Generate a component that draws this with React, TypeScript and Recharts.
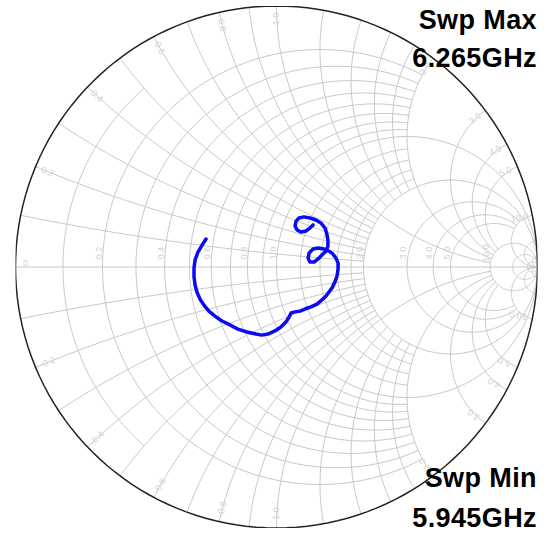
import React from "react";
import { ScatterChart, Scatter, XAxis, YAxis } from "recharts";

const W = 557;
const H = 533;
const GRID = "#c8c8c8";
const LABEL = "#d2d2d2";
const TRACE = "#0a0af5";

// resistance circles, and up to which |x| each is drawn
const resistances = [0.1, 0.2, 0.3, 0.4, 0.5, 0.6, 0.7, 0.8, 0.9, 1, 1.2, 1.4, 1.6, 1.8, 2, 3, 4, 5, 10, 20, 50];
const resistanceReach = [0.5, 2, 2, 2, 2, 2, 2, 2, 2, Infinity, 2, 2, 2, 2, Infinity, 10, 10, 10, Infinity, Infinity, Infinity];
// reactance arcs, and up to which r each is drawn
const reactances = [0.1, 0.2, 0.3, 0.4, 0.5, 0.6, 0.7, 0.8, 0.9, 1, 1.2, 1.4, 1.6, 1.8, 2, 3, 4, 5, 10, 20, 50];
const reactanceReach = [2, 2, 2, 2, 2, 2, 2, 2, 2, 10, 2, 2, 2, 2, 10, 10, 10, 10, Infinity, Infinity, Infinity];

const axisLabels = [0, 0.2, 0.4, 0.6, 0.8, 1, 2, 3, 4, 5, 10];
const rimLabels = [0.2, 0.4, 0.6, 0.8, 1, 2, 3, 4, 5, 10, -0.2, -0.4, -0.6, -0.8, -1, -2, -3, -4, -5, -10];

// S11 from 5.945 GHz to 6.265 GHz (real / imaginary)
const traceRe = [
  -0.27, -0.285, -0.301, -0.312, -0.316, -0.316, -0.312, -0.305, -0.293, -0.278, -0.259, -0.236, -0.209, -0.178,
  -0.148, -0.113, -0.079, -0.056, -0.033, -0.006, 0.017, 0.036, 0.048, 0.056, 0.071, 0.09, 0.109, 0.132, 0.155,
  0.174, 0.19, 0.201, 0.213, 0.224, 0.232, 0.236, 0.236, 0.228, 0.216, 0.201, 0.182, 0.159, 0.14, 0.125, 0.121,
  0.128, 0.144, 0.159, 0.174, 0.19, 0.197, 0.197, 0.193, 0.186, 0.17, 0.151, 0.128, 0.105, 0.086, 0.075, 0.071,
  0.079, 0.094, 0.113, 0.128, 0.14,
];
const traceIm = [
  0.107, 0.084, 0.057, 0.027, -0.004, -0.038, -0.069, -0.096, -0.123, -0.146, -0.169, -0.188, -0.207, -0.222,
  -0.238, -0.249, -0.257, -0.261, -0.257, -0.245, -0.23, -0.211, -0.192, -0.176, -0.172, -0.169, -0.161, -0.153,
  -0.142, -0.126, -0.111, -0.096, -0.08, -0.057, -0.034, -0.008, 0.015, 0.034, 0.05, 0.061, 0.069, 0.073, 0.069,
  0.054, 0.034, 0.019, 0.019, 0.031, 0.046, 0.061, 0.08, 0.103, 0.126, 0.149, 0.169, 0.18, 0.188, 0.192, 0.188,
  0.176, 0.157, 0.142, 0.134, 0.138, 0.149, 0.161,
];

type P = { x: number; y: number };

function gamma(r: number, x: number): P {
  const d = (r + 1) * (r + 1) + x * x;
  return { x: (r * r + x * x - 1) / d, y: (2 * x) / d };
}

function rCircle(r: number, reach: number): P[] {
  const c = r / (r + 1);
  const rho = 1 / (r + 1);
  let a0 = 0;
  if (isFinite(reach)) {
    const g = gamma(r, reach);
    a0 = Math.atan2(g.y, g.x - c);
  }
  const pts: P[] = [];
  const n = 160;
  for (let i = 0; i <= n; i++) {
    const a = a0 + ((2 * Math.PI - 2 * a0) * i) / n;
    pts.push({ x: c + rho * Math.cos(a), y: rho * Math.sin(a) });
  }
  return pts;
}

function xArc(x: number, reach: number): P[] {
  const cy = 1 / x;
  const rad = Math.abs(1 / x);
  const A = gamma(0, x);
  const B = isFinite(reach) ? gamma(reach, x) : { x: 1, y: 0 };
  const a = Math.atan2(A.y - cy, A.x - 1);
  const b = Math.atan2(B.y - cy, B.x - 1);
  let d = b - a;
  while (d > Math.PI) d -= 2 * Math.PI;
  while (d < -Math.PI) d += 2 * Math.PI;
  const pts: P[] = [];
  const n = 80;
  for (let i = 0; i <= n; i++) {
    const t = a + (d * i) / n;
    pts.push({ x: 1 + rad * Math.cos(t), y: cy + rad * Math.sin(t) });
  }
  return pts;
}

const gridCurves: P[][] = [];
resistances.forEach((r, i) => gridCurves.push(rCircle(r, resistanceReach[i])));
reactances.forEach((x, i) => {
  gridCurves.push(xArc(x, reactanceReach[i]));
  gridCurves.push(xArc(-x, reactanceReach[i]));
});
gridCurves.push([{ x: -1, y: 0 }, { x: 1, y: 0 }]);

const outline = rCircle(0, Infinity);

const trace = traceRe.map((re, i) => ({ x: re, y: traceIm[i] }));

const axisLabelData = axisLabels.map((r) => ({ x: (r - 1) / (r + 1), y: 0, text: r === 0 ? "0" : r.toFixed(1), kind: "axis" }));
const rimLabelData = rimLabels.map((v) => {
  const th = Math.PI - 2 * Math.atan(v);
  return { x: 0.95 * Math.cos(th), y: 0.95 * Math.sin(th), text: v.toFixed(1), kind: "rim", th };
});

const Empty = () => <g />;

function GridLabel(p: any) {
  const { cx, cy, payload } = p;
  if (payload.kind === "axis") {
    const lx = payload.text === "0" ? cx + 10 : cx - 4;
    const ly = payload.text === "0" ? cy - 4 : cy - 14;
    const rot = payload.text === "0" ? 0 : -90;
    return (
      <text x={lx} y={ly} fill={LABEL} fontSize={9} fontFamily="Liberation Sans, Arial" textAnchor="middle"
        dominantBaseline="central" transform={`rotate(${rot} ${lx} ${ly})`}>
        {payload.text}
      </text>
    );
  }
  const deg = (payload.th * 180) / Math.PI;
  let rot = -deg;
  if (deg > 90 || deg < -90) rot = 180 - deg;
  return (
    <text x={cx} y={cy} fill={LABEL} fontSize={9} fontFamily="Liberation Sans, Arial" textAnchor="middle"
      dominantBaseline="central" transform={`rotate(${rot} ${cx} ${cy})`}>
      {payload.text}
    </text>
  );
}

const sweepText: React.CSSProperties = {
  position: "absolute",
  right: 20,
  fontFamily: "Liberation Sans, Arial, sans-serif",
  fontWeight: "bold",
  fontSize: 27,
  letterSpacing: 0.4,
  lineHeight: "27px",
  color: "#000",
  textAlign: "right",
  whiteSpace: "nowrap",
};

export default function App() {
  return (
    <div style={{ position: "absolute", left: 0, top: 0, width: W, height: H, background: "#fff" }}>
      <ScatterChart width={W} height={H} margin={{ top: 6, right: 19.5, bottom: 5, left: 15.5 }}>
        <XAxis type="number" dataKey="x" domain={[-1, 1]} allowDataOverflow hide />
        <YAxis type="number" dataKey="y" domain={[-1, 1]} allowDataOverflow hide />
        {gridCurves.map((pts, i) => (
          <Scatter key={`g${i}`} data={pts} fill="none" line={{ stroke: GRID, strokeWidth: 1 }}
            shape={Empty} legendType="none" isAnimationActive={false} />
        ))}
        <Scatter data={[...axisLabelData, ...rimLabelData]} shape={GridLabel} legendType="none" isAnimationActive={false} />
        <Scatter data={outline} fill="none" line={{ stroke: "#222", strokeWidth: 1.5 }}
          shape={Empty} legendType="none" isAnimationActive={false} />
        <Scatter data={trace} fill="none" line={{ stroke: TRACE, strokeWidth: 3.5, strokeLinejoin: "round", strokeLinecap: "round" }}
          shape={Empty} legendType="none" isAnimationActive={false} />
      </ScatterChart>
      <div style={{ ...sweepText, top: 7 }}>Swp Max</div>
      <div style={{ ...sweepText, top: 45 }}>6.265GHz</div>
      <div style={{ ...sweepText, top: 465 }}>Swp Min</div>
      <div style={{ ...sweepText, top: 505 }}>5.945GHz</div>
    </div>
  );
}
